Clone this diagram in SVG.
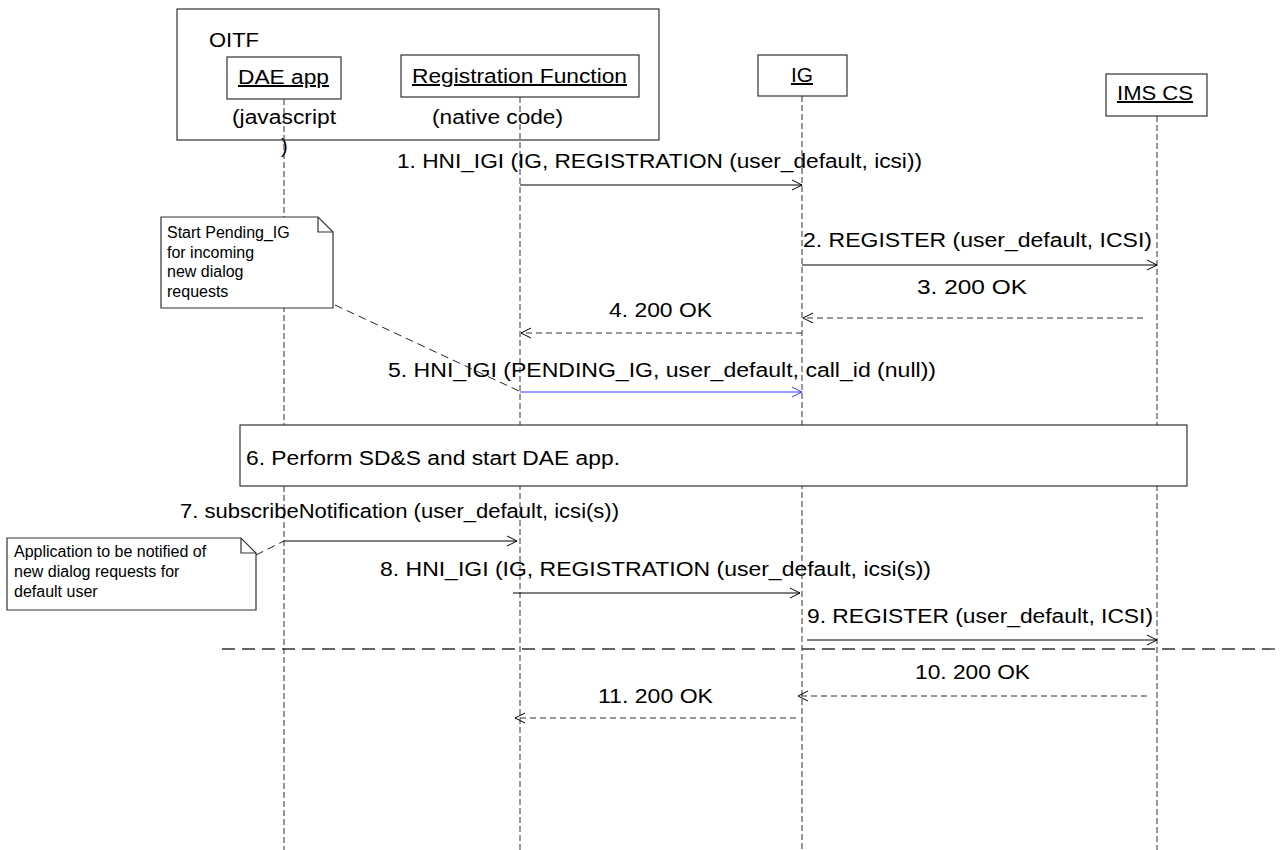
<svg xmlns="http://www.w3.org/2000/svg" width="1282" height="850" viewBox="0 0 1282 850">
<defs>
<style>
.t{font-family:"Liberation Sans",Arial,sans-serif;font-size:20px;fill:#000}
.n{font-family:"Liberation Sans",Arial,sans-serif;font-size:16px;fill:#000}
.u{text-decoration:underline}
.box{fill:#fff;stroke:#333;stroke-width:1.2}
.life{stroke:#333;stroke-width:1;stroke-dasharray:6 3;fill:none}
.msg{stroke:#000;stroke-width:1;fill:none;marker-end:url(#ah)}
.ret{stroke:#333;stroke-width:1;stroke-dasharray:6 4;fill:none;marker-end:url(#ah)}
.blue{stroke:#3838ff;stroke-width:1;fill:none;marker-end:url(#ahb)}
.nl{stroke:#222;stroke-width:1;stroke-dasharray:8 5;fill:none}
.sep{stroke:#333;stroke-width:1.3;stroke-dasharray:13 7;fill:none}
</style>
<marker id="ah" markerUnits="userSpaceOnUse" markerWidth="12" markerHeight="12" viewBox="0 0 12 12" refX="11" refY="6" orient="auto">
<path d="M1,1 L11,6 L1,11" fill="none" stroke="#000" stroke-width="1"/>
</marker>
<marker id="ahb" markerUnits="userSpaceOnUse" markerWidth="12" markerHeight="12" viewBox="0 0 12 12" refX="11" refY="6" orient="auto">
<path d="M1,1 L11,6 L1,11" fill="none" stroke="#3838ff" stroke-width="1"/>
</marker>
</defs>
<rect width="1282" height="850" fill="#fff"/>

<g id="oitf">
<rect class="box" x="177" y="9" width="482" height="131"/>
<text class="t" x="209" y="47" textLength="50" lengthAdjust="spacingAndGlyphs">OITF</text>
<text class="t" x="232" y="124" textLength="104" lengthAdjust="spacingAndGlyphs">(javascript</text>
<text class="t" x="281" y="153">)</text>
<text class="t" x="432" y="124" textLength="131" lengthAdjust="spacingAndGlyphs">(native code)</text>
</g>

<g id="lifelines">
<line class="life" x1="284" y1="99" x2="284" y2="850"/>
<line class="life" x1="520" y1="97" x2="520" y2="850"/>
<line class="life" x1="802" y1="96" x2="802" y2="850"/>
<line class="life" x1="1157" y1="116" x2="1157" y2="850"/>
</g>

<g id="dae-app">
<rect class="box" x="227" y="57" width="114" height="42"/>
<text class="t u" x="238" y="84" textLength="91" lengthAdjust="spacingAndGlyphs">DAE app</text>
</g>
<g id="registration-function">
<rect class="box" x="401" y="55" width="238" height="42"/>
<text class="t u" x="412" y="83" textLength="215" lengthAdjust="spacingAndGlyphs">Registration Function</text>
</g>
<g id="ig">
<rect class="box" x="758" y="55" width="89" height="41"/>
<text class="t u" x="791" y="82" textLength="22" lengthAdjust="spacingAndGlyphs">IG</text>
</g>
<g id="ims-cs">
<rect class="box" x="1106" y="74" width="101" height="42"/>
<text class="t u" x="1117" y="100" textLength="76" lengthAdjust="spacingAndGlyphs">IMS CS</text>
</g>

<g id="connectors">
<line class="msg" x1="520" y1="185" x2="802" y2="185"/>
<text class="t" x="397" y="168" textLength="525" lengthAdjust="spacingAndGlyphs">1. HNI_IGI (IG, REGISTRATION (user_default, icsi))</text>
<line class="msg" x1="802" y1="265" x2="1157" y2="265"/>
<text class="t" x="803" y="247" textLength="349" lengthAdjust="spacingAndGlyphs">2. REGISTER (user_default, ICSI)</text>
<line class="ret" x1="1143" y1="318" x2="803" y2="318"/>
<text class="t" x="917" y="294" textLength="110" lengthAdjust="spacingAndGlyphs">3. 200 OK</text>
<line class="ret" x1="802" y1="333" x2="521" y2="333"/>
<text class="t" x="609" y="317" textLength="103" lengthAdjust="spacingAndGlyphs">4. 200 OK</text>
<line class="blue" x1="520" y1="392" x2="802" y2="392"/>
<text class="t" x="388" y="377" textLength="548" lengthAdjust="spacingAndGlyphs">5. HNI_IGI (PENDING_IG, user_default, call_id (null))</text>
<line class="msg" x1="284" y1="541" x2="517" y2="541"/>
<text class="t" x="180" y="518" textLength="439" lengthAdjust="spacingAndGlyphs">7. subscribeNotification (user_default, icsi(s))</text>
<line class="msg" x1="513" y1="593" x2="800" y2="593"/>
<text class="t" x="380" y="576" textLength="551" lengthAdjust="spacingAndGlyphs">8. HNI_IGI (IG, REGISTRATION (user_default, icsi(s))</text>
<line class="msg" x1="807" y1="640" x2="1157" y2="640"/>
<text class="t" x="807" y="623" textLength="346" lengthAdjust="spacingAndGlyphs">9. REGISTER (user_default, ICSI)</text>
<line class="ret" x1="1147" y1="696" x2="798" y2="696"/>
<text class="t" x="915" y="679" textLength="115" lengthAdjust="spacingAndGlyphs">10. 200 OK</text>
<line class="ret" x1="796" y1="718" x2="515" y2="718"/>
<text class="t" x="598" y="703" textLength="115" lengthAdjust="spacingAndGlyphs">11. 200 OK</text>
<line class="nl" x1="335" y1="305" x2="519" y2="391"/>
<line class="nl" x1="256" y1="555" x2="284" y2="541"/>
<line class="sep" x1="222" y1="649" x2="1282" y2="649"/>
</g>

<g id="step6">
<rect class="box" x="240" y="425" width="947" height="61"/>
<text class="t" x="246" y="465" textLength="374" lengthAdjust="spacingAndGlyphs">6. Perform SD&amp;S and start DAE app.</text>
</g>

<g id="note-pending">
<path class="box" d="M161,217 L318,217 L333,232 L333,308 L161,308 Z"/>
<path d="M318,217 L318,232 L333,232" fill="none" stroke="#333" stroke-width="1.2"/>
<text class="n" x="167" y="238">Start Pending_IG</text>
<text class="n" x="167" y="257.5">for incoming</text>
<text class="n" x="167" y="277">new dialog</text>
<text class="n" x="167" y="296.5">requests</text>
</g>

<g id="note-application">
<path class="box" d="M7,538 L241,538 L256,553 L256,610 L7,610 Z"/>
<path d="M241,538 L241,553 L256,553" fill="none" stroke="#333" stroke-width="1.2"/>
<text class="n" x="14" y="557">Application to be notified of</text>
<text class="n" x="14" y="577">new dialog requests for</text>
<text class="n" x="14" y="597">default user</text>
</g>
</svg>
